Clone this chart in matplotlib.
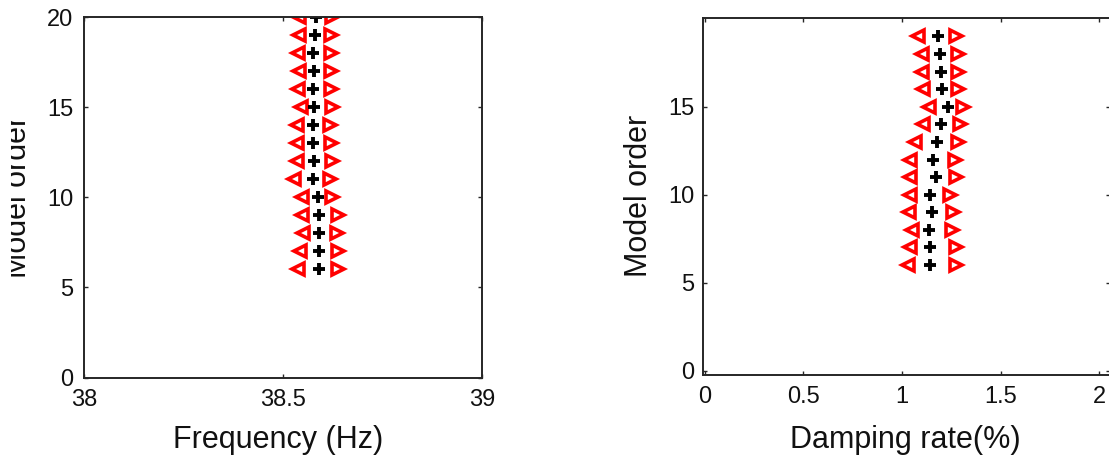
import matplotlib
matplotlib.use("Agg")
import matplotlib.pyplot as plt
from matplotlib.transforms import Bbox, TransformedBbox

plt.rcParams['font.family'] = ['Liberation Sans', 'DejaVu Sans']

# ---- data ----
order_freq = [20, 19, 18, 17, 16, 15, 14, 13, 12, 11, 10, 9, 8, 7, 6]
freq_center = [38.583, 38.580, 38.576, 38.579, 38.575, 38.579, 38.575, 38.575,
               38.579, 38.576, 38.587, 38.591, 38.591, 38.591, 38.591]
freq_lower = [38.541, 38.541, 38.538, 38.541, 38.538, 38.544, 38.534, 38.534,
              38.534, 38.528, 38.547, 38.547, 38.551, 38.543, 38.538]
freq_upper = [38.622, 38.621, 38.621, 38.621, 38.620, 38.622, 38.618, 38.621,
              38.622, 38.618, 38.622, 38.639, 38.635, 38.639, 38.639]

order_damp = [19, 18, 17, 16, 15, 14, 13, 12, 11, 10, 9, 8, 7, 6]
damp_center = [1.184, 1.193, 1.198, 1.202, 1.235, 1.198, 1.176, 1.159,
               1.173, 1.142, 1.151, 1.139, 1.142, 1.142]
damp_lower = [1.080, 1.100, 1.100, 1.108, 1.139, 1.108, 1.066, 1.041,
              1.041, 1.041, 1.037, 1.050, 1.041, 1.032]
damp_upper = [1.274, 1.286, 1.286, 1.286, 1.311, 1.294, 1.286, 1.269,
              1.274, 1.244, 1.261, 1.252, 1.274, 1.274]

freq_ticks = [38, 38.5, 39]
freq_ticklabels = ['38', '38.5', '39']
damp_ticks = [0, 0.5, 1, 1.5, 2]
damp_ticklabels = ['0', '0.5', '1', '1.5', '2']
order_ticks_left = [0, 5, 10, 15, 20]
order_ticks_right = [0, 5, 10, 15]

W, H = 1109, 458
fig = plt.figure(figsize=(W / 100, H / 100), dpi=100)

ax1 = fig.add_axes([84 / W, 1 - 377.5 / H, 398 / W, 360.2 / H])
ax2 = fig.add_axes([703 / W, 1 - 375 / H, 407 / W, 357 / H])

red = '#ff0000'
tri_ms = 9.3
tri_mew = 2.6
plus_ms = 9
plus_mew = 2.8

def draw(ax, center, lower, upper, orders):
    ax.plot(lower, orders, linestyle='none', marker='<', ms=tri_ms,
            mfc='white', mec=red, mew=tri_mew)
    ax.plot(upper, orders, linestyle='none', marker='>', ms=tri_ms,
            mfc='white', mec=red, mew=tri_mew)
    ax.plot(center, orders, linestyle='none', marker='+', ms=plus_ms,
            mec='black', mew=plus_mew)

draw(ax1, freq_center, freq_lower, freq_upper, order_freq)
draw(ax2, damp_center, damp_lower, damp_upper, order_damp)

ax1.set_xlim(38, 39)
ax1.set_ylim(0, 20)
ax1.set_xticks(freq_ticks)
ax1.set_xticklabels(freq_ticklabels)
ax1.set_yticks(order_ticks_left)

ax2.set_xlim(-0.008, 2.055)
ax2.set_ylim(-0.25, 20.05)
ax2.set_xticks(damp_ticks)
ax2.set_xticklabels(damp_ticklabels)
ax2.set_yticks(order_ticks_right)

spine_col = '#262626'
for ax in (ax1, ax2):
    for s in ax.spines.values():
        s.set_linewidth(1.4)
        s.set_color(spine_col)
    ax.tick_params(direction='in', length=3, width=1.0, top=True, right=True,
                   labelsize=17, colors=spine_col, labelcolor='#111111')
    ax.tick_params(axis='x', pad=8)
    ax.tick_params(axis='y', pad=7.5)
ax2.tick_params(axis='y', pad=6)

lab_fs = 22
fig.text(278.5 / W, 1 - 448 / H, 'Frequency (Hz)', ha='center', va='baseline',
         fontsize=lab_fs, color='#111111')
fig.text(905 / W, 1 - 448 / H, 'Damping rate(%)', ha='center', va='baseline',
         fontsize=lab_fs, color='#111111')

yl1 = fig.text(26 / W, 1 - 196.7 / H, 'Model order', rotation=90,
               rotation_mode='anchor', ha='center', va='baseline',
               fontsize=lab_fs, color='#111111')
clip = TransformedBbox(Bbox([[11 / W, 0], [1, 1]]), fig.transFigure)
yl1.set_clip_box(clip)
yl1.set_clip_on(True)

fig.text(647 / W, 1 - 196 / H, 'Model order', rotation=90,
         rotation_mode='anchor', ha='center', va='baseline',
         fontsize=lab_fs, color='#111111')

fig.savefig('out.png', dpi=100, facecolor='white')
